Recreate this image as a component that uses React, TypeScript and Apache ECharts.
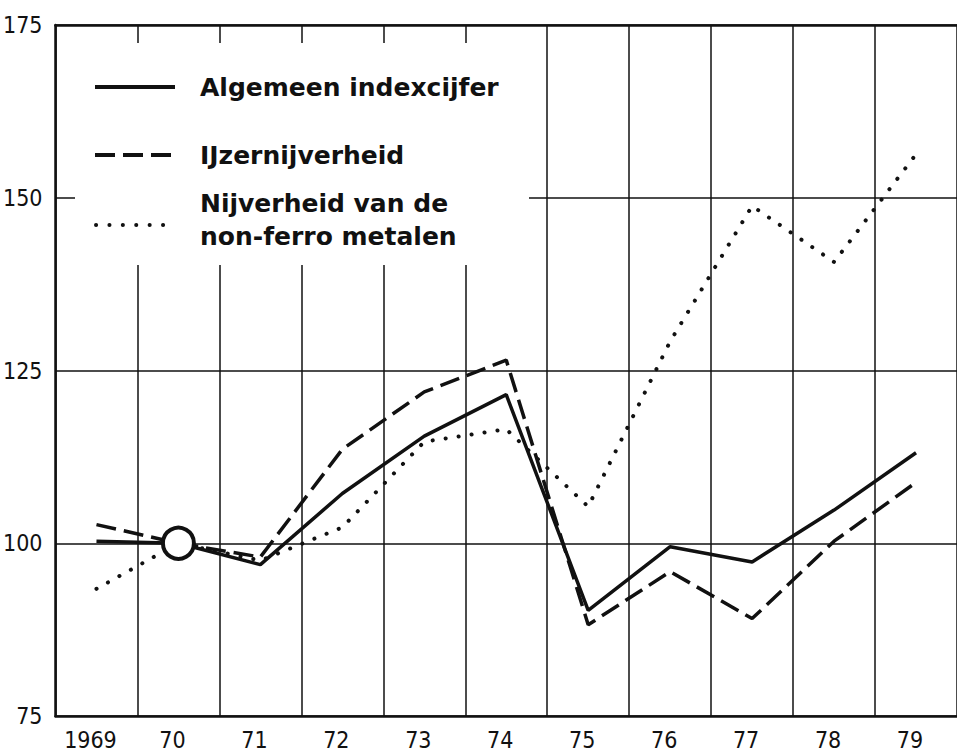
import React, { useEffect, useRef } from "react";
import * as echarts from "echarts";

const years = ["1969", "70", "71", "72", "73", "74", "75", "76", "77", "78", "79"];
const algemeen = [100.3, 100, 96.9, 107.2, 115.5, 121.5, 90.3, 99.5, 97.3, 104.8, 113.1];
const ijzer = [102.7, 100, 98.0, 113.6, 121.9, 126.5, 88.2, 95.9, 89.1, 100.3, 108.8];
const nonFerro = [93.4, 100, 97.5, 102.3, 114.7, 116.5, 105.3, 129.2, 148.8, 140.7, 156.3];
const baseYear = "70";
const baseValue = 100;
const yTicks = [75, 100, 125, 150, 175];

const seriesNames = ["Algemeen indexcijfer", "IJzernijverheid", "Nijverheid van de\nnon-ferro metalen"];

const axisFont = '"Liberation Sans Narrow", "DejaVu Sans Condensed", "Roboto Condensed", sans-serif';
const legendFont = '"DejaVu Sans", sans-serif';

export default function App() {
  const ref = useRef<HTMLDivElement>(null);
  useEffect(() => {
    if (!ref.current) return;
    const chart = echarts.init(ref.current, undefined, { renderer: "svg" });
    const ink = "#111";
    chart.setOption({
      animation: false,
      backgroundColor: "#fff",
      grid: { left: 53, right: -9, top: 25, bottom: 39, containLabel: false },
      xAxis: [
        {
          type: "category",
          data: years,
          boundaryGap: true,
          axisLine: { show: true, lineStyle: { color: ink, width: 2.5 } },
          axisTick: { show: false },
          axisLabel: {
            color: ink,
            fontFamily: axisFont,
            fontSize: 23,
            margin: 12,
            padding: [0, 12, 0, 0],
          },
          splitLine: { show: true, interval: 0, lineStyle: { color: ink, width: 1.5 } },
        },
        {
          type: "category",
          data: years,
          position: "top",
          boundaryGap: true,
          axisLine: { show: true, lineStyle: { color: ink, width: 2.5 } },
          axisTick: { show: false },
          axisLabel: { show: false },
          splitLine: { show: false },
        },
      ],
      yAxis: {
        type: "value",
        min: yTicks[0],
        max: yTicks[yTicks.length - 1],
        interval: 25,
        axisLine: { show: true, lineStyle: { color: ink, width: 2.5 } },
        axisTick: { show: false },
        axisLabel: {
          color: ink,
          fontFamily: axisFont,
          fontSize: 23,
          margin: 13,
        },
        splitLine: { show: true, lineStyle: { color: ink, width: 1.5 } },
      },
      series: [
        {
          name: seriesNames[2],
          type: "line",
          data: nonFerro,
          symbol: "none",
          z: 3,
          lineStyle: { color: ink, width: 4, type: [0.1, 13], cap: "round" },
        },
        {
          name: seriesNames[1],
          type: "line",
          data: ijzer,
          symbol: "none",
          z: 4,
          lineStyle: { color: ink, width: 3.5, type: [20, 8] },
        },
        {
          name: seriesNames[0],
          type: "line",
          data: algemeen,
          symbol: "none",
          z: 5,
          lineStyle: { color: ink, width: 3.5 },
        },
        {
          name: "Basisjaar",
          type: "scatter",
          data: [[baseYear, baseValue]],
          symbol: "circle",
          symbolSize: 31,
          z: 6,
          itemStyle: { color: "#fff", borderColor: ink, borderWidth: 4, opacity: 1 },
        },
      ],
      graphic: [
        {
          type: "rect",
          z: 100,
          shape: { x: 75, y: 43, width: 454, height: 222 },
          style: { fill: "#fff" },
        },
        {
          type: "line",
          z: 101,
          shape: { x1: 95, y1: 87, x2: 175, y2: 87 },
          style: { stroke: ink, lineWidth: 4 },
        },
        {
          type: "text",
          z: 101,
          x: 200,
          y: 87,
          style: {
            text: seriesNames[0],
            font: `bold 25px ${legendFont}`,
            fill: ink,
            verticalAlign: "middle",
          },
        },
        {
          type: "line",
          z: 101,
          shape: { x1: 95, y1: 155, x2: 175, y2: 155 },
          style: { stroke: ink, lineWidth: 4, lineDash: [20, 8] },
        },
        {
          type: "text",
          z: 101,
          x: 200,
          y: 155,
          style: {
            text: seriesNames[1],
            font: `bold 25px ${legendFont}`,
            fill: ink,
            verticalAlign: "middle",
          },
        },
        {
          type: "line",
          z: 101,
          shape: { x1: 96, y1: 225, x2: 176, y2: 225 },
          style: { stroke: ink, lineWidth: 4, lineDash: [0.1, 13.3], lineCap: "round" },
        },
        {
          type: "text",
          z: 101,
          x: 200,
          y: 220,
          style: {
            text: seriesNames[2],
            font: `bold 25px ${legendFont}`,
            lineHeight: 33,
            fill: ink,
            verticalAlign: "middle",
          },
        },
      ],
    });
    return () => chart.dispose();
  }, []);
  return (
    <div
      ref={ref}
      style={{ position: "absolute", left: 0, top: 0, width: 957, height: 755, overflow: "hidden" }}
    />
  );
}
